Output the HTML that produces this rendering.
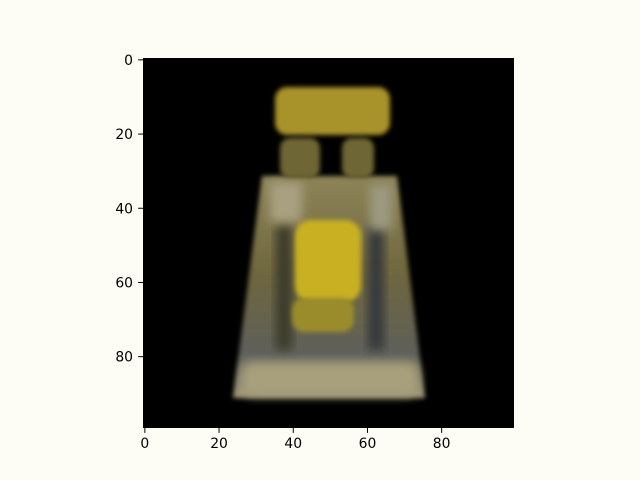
<!DOCTYPE html>
<html><head><meta charset="utf-8"><style>
body{margin:0;background:#fdfdf6;}
svg{display:block;font-family:"DejaVu Sans","Liberation Sans",sans-serif;}
</style></head><body>
<svg width="640" height="480">
<defs>
<filter id="b" x="-30%" y="-30%" width="160%" height="160%"><feGaussianBlur stdDeviation="5"/></filter>
<filter id="b2" x="-20%" y="-20%" width="140%" height="140%"><feGaussianBlur stdDeviation="2.5"/></filter>
<linearGradient id="body" x1="0" y1="0" x2="0" y2="1">
<stop offset="0" stop-color="#8e8458"/><stop offset="0.45" stop-color="#6e663e"/><stop offset="0.8" stop-color="#5e605a"/><stop offset="1" stop-color="#a09878"/>
</linearGradient>
</defs>
<rect x="0" y="0" width="640" height="480" fill="#fdfdf6"/>
<g>
<rect x="143" y="58" width="371" height="370" fill="#000"/>
<clipPath id="c"><rect x="143" y="58" width="371" height="370"/></clipPath>
<g clip-path="url(#c)">
<polygon points="262,176 397,176 425,398 233,398" fill="url(#body)" filter="url(#b2)"/>
<rect x="276" y="225" width="16" height="125" fill="#3a3a2c" filter="url(#b)"/>
<rect x="368" y="225" width="16" height="125" fill="#34383a" filter="url(#b)"/>
<rect x="270" y="182" width="32" height="40" fill="#a8a080" filter="url(#b)"/>
<rect x="370" y="185" width="22" height="45" fill="#9c9a80" filter="url(#b)"/>
<rect x="242" y="362" width="176" height="34" rx="10" fill="#a8a07c" filter="url(#b)"/>
<rect x="295" y="220" width="66" height="82" rx="16" fill="#c8b024" filter="url(#b2)"/>
<rect x="292" y="298" width="62" height="34" rx="12" fill="#9a8c2c" filter="url(#b2)"/>
<rect x="280" y="138" width="40" height="40" rx="10" fill="#6e6636" filter="url(#b2)"/>
<rect x="342" y="138" width="32" height="40" rx="10" fill="#6e6636" filter="url(#b2)"/>
<rect x="275" y="87" width="115" height="48" rx="12" fill="#a8922c" filter="url(#b2)"/>
</g>
</g>
<g font-size="13.9" fill="#000" text-anchor="middle" id="xa"></g>
<g font-size="13.9" fill="#000" text-anchor="end" id="ya"></g>
</svg>
<script>
const xTicks=[0,20,40,60,80];
const yTicks=[0,20,40,60,80];
const x0=143,y0=58,s=3.71;
const ns="http://www.w3.org/2000/svg";
const xa=document.getElementById('xa'),ya=document.getElementById('ya');
xTicks.forEach(v=>{const px=x0+(v+0.5)*s;
const l=document.createElementNS(ns,'line');


l.setAttribute('x1',px);l.setAttribute('x2',px);l.setAttribute('y1',428);l.setAttribute('y2',432.9);l.setAttribute('stroke','#000');xa.appendChild(l);
const t=document.createElementNS(ns,'text');


t.setAttribute('x',px);t.setAttribute('y',448);t.textContent=v;xa.appendChild(t);});
yTicks.forEach(v=>{const py=y0+(v+0.5)*s;
const l=document.createElementNS(ns,'line');


l.setAttribute('x1',138.1);l.setAttribute('x2',143);l.setAttribute('y1',py);l.setAttribute('y2',py);l.setAttribute('stroke','#000');ya.appendChild(l);
const t=document.createElementNS(ns,'text');


t.setAttribute('x',133);t.setAttribute('y',py+5);t.textContent=v;ya.appendChild(t);});
</script>
</body></html>
